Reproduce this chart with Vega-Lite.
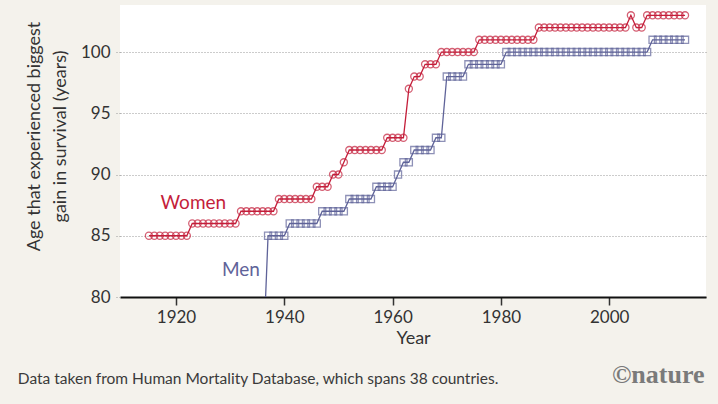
{
  "$schema": "https://vega.github.io/schema/vega-lite/v6.json",
  "width": 586,
  "height": 292,
  "autosize": "none",
  "padding": {"left": 120, "top": 5, "right": 12, "bottom": 107},
  "background": "#f4f2ec",
  "config": {
    "view": {"fill": "white", "stroke": null},
    "font": "Lato"
  },
  "datasets": {
    "series": [
      {"series":"Women","year":1915,"age":85},{"series":"Women","year":1916,"age":85},{"series":"Women","year":1917,"age":85},{"series":"Women","year":1918,"age":85},{"series":"Women","year":1919,"age":85},{"series":"Women","year":1920,"age":85},{"series":"Women","year":1921,"age":85},{"series":"Women","year":1922,"age":85},
      {"series":"Women","year":1923,"age":86},{"series":"Women","year":1924,"age":86},{"series":"Women","year":1925,"age":86},{"series":"Women","year":1926,"age":86},{"series":"Women","year":1927,"age":86},{"series":"Women","year":1928,"age":86},{"series":"Women","year":1929,"age":86},{"series":"Women","year":1930,"age":86},{"series":"Women","year":1931,"age":86},
      {"series":"Women","year":1932,"age":87},{"series":"Women","year":1933,"age":87},{"series":"Women","year":1934,"age":87},{"series":"Women","year":1935,"age":87},{"series":"Women","year":1936,"age":87},{"series":"Women","year":1937,"age":87},{"series":"Women","year":1938,"age":87},
      {"series":"Women","year":1939,"age":88},{"series":"Women","year":1940,"age":88},{"series":"Women","year":1941,"age":88},{"series":"Women","year":1942,"age":88},{"series":"Women","year":1943,"age":88},{"series":"Women","year":1944,"age":88},{"series":"Women","year":1945,"age":88},
      {"series":"Women","year":1946,"age":89},{"series":"Women","year":1947,"age":89},{"series":"Women","year":1948,"age":89},
      {"series":"Women","year":1949,"age":90},{"series":"Women","year":1950,"age":90},
      {"series":"Women","year":1951,"age":91},
      {"series":"Women","year":1952,"age":92},{"series":"Women","year":1953,"age":92},{"series":"Women","year":1954,"age":92},{"series":"Women","year":1955,"age":92},{"series":"Women","year":1956,"age":92},{"series":"Women","year":1957,"age":92},{"series":"Women","year":1958,"age":92},
      {"series":"Women","year":1959,"age":93},{"series":"Women","year":1960,"age":93},{"series":"Women","year":1961,"age":93},{"series":"Women","year":1962,"age":93},
      {"series":"Women","year":1963,"age":97},
      {"series":"Women","year":1964,"age":98},{"series":"Women","year":1965,"age":98},
      {"series":"Women","year":1966,"age":99},{"series":"Women","year":1967,"age":99},{"series":"Women","year":1968,"age":99},
      {"series":"Women","year":1969,"age":100},{"series":"Women","year":1970,"age":100},{"series":"Women","year":1971,"age":100},{"series":"Women","year":1972,"age":100},{"series":"Women","year":1973,"age":100},{"series":"Women","year":1974,"age":100},{"series":"Women","year":1975,"age":100},
      {"series":"Women","year":1976,"age":101},{"series":"Women","year":1977,"age":101},{"series":"Women","year":1978,"age":101},{"series":"Women","year":1979,"age":101},{"series":"Women","year":1980,"age":101},{"series":"Women","year":1981,"age":101},{"series":"Women","year":1982,"age":101},{"series":"Women","year":1983,"age":101},{"series":"Women","year":1984,"age":101},{"series":"Women","year":1985,"age":101},{"series":"Women","year":1986,"age":101},
      {"series":"Women","year":1987,"age":102},{"series":"Women","year":1988,"age":102},{"series":"Women","year":1989,"age":102},{"series":"Women","year":1990,"age":102},{"series":"Women","year":1991,"age":102},{"series":"Women","year":1992,"age":102},{"series":"Women","year":1993,"age":102},{"series":"Women","year":1994,"age":102},{"series":"Women","year":1995,"age":102},{"series":"Women","year":1996,"age":102},{"series":"Women","year":1997,"age":102},{"series":"Women","year":1998,"age":102},{"series":"Women","year":1999,"age":102},{"series":"Women","year":2000,"age":102},{"series":"Women","year":2001,"age":102},{"series":"Women","year":2002,"age":102},{"series":"Women","year":2003,"age":102},
      {"series":"Women","year":2004,"age":103},
      {"series":"Women","year":2005,"age":102},{"series":"Women","year":2006,"age":102},
      {"series":"Women","year":2007,"age":103},{"series":"Women","year":2008,"age":103},{"series":"Women","year":2009,"age":103},{"series":"Women","year":2010,"age":103},{"series":"Women","year":2011,"age":103},{"series":"Women","year":2012,"age":103},{"series":"Women","year":2013,"age":103},{"series":"Women","year":2014,"age":103},
      {"series":"Men","year":1936,"age":74},
      {"series":"Men","year":1937,"age":85},{"series":"Men","year":1938,"age":85},{"series":"Men","year":1939,"age":85},{"series":"Men","year":1940,"age":85},
      {"series":"Men","year":1941,"age":86},{"series":"Men","year":1942,"age":86},{"series":"Men","year":1943,"age":86},{"series":"Men","year":1944,"age":86},{"series":"Men","year":1945,"age":86},{"series":"Men","year":1946,"age":86},
      {"series":"Men","year":1947,"age":87},{"series":"Men","year":1948,"age":87},{"series":"Men","year":1949,"age":87},{"series":"Men","year":1950,"age":87},{"series":"Men","year":1951,"age":87},
      {"series":"Men","year":1952,"age":88},{"series":"Men","year":1953,"age":88},{"series":"Men","year":1954,"age":88},{"series":"Men","year":1955,"age":88},{"series":"Men","year":1956,"age":88},
      {"series":"Men","year":1957,"age":89},{"series":"Men","year":1958,"age":89},{"series":"Men","year":1959,"age":89},{"series":"Men","year":1960,"age":89},
      {"series":"Men","year":1961,"age":90},
      {"series":"Men","year":1962,"age":91},{"series":"Men","year":1963,"age":91},
      {"series":"Men","year":1964,"age":92},{"series":"Men","year":1965,"age":92},{"series":"Men","year":1966,"age":92},{"series":"Men","year":1967,"age":92},
      {"series":"Men","year":1968,"age":93},{"series":"Men","year":1969,"age":93},
      {"series":"Men","year":1970,"age":98},{"series":"Men","year":1971,"age":98},{"series":"Men","year":1972,"age":98},{"series":"Men","year":1973,"age":98},
      {"series":"Men","year":1974,"age":99},{"series":"Men","year":1975,"age":99},{"series":"Men","year":1976,"age":99},{"series":"Men","year":1977,"age":99},{"series":"Men","year":1978,"age":99},{"series":"Men","year":1979,"age":99},{"series":"Men","year":1980,"age":99},
      {"series":"Men","year":1981,"age":100},{"series":"Men","year":1982,"age":100},{"series":"Men","year":1983,"age":100},{"series":"Men","year":1984,"age":100},{"series":"Men","year":1985,"age":100},{"series":"Men","year":1986,"age":100},{"series":"Men","year":1987,"age":100},{"series":"Men","year":1988,"age":100},{"series":"Men","year":1989,"age":100},{"series":"Men","year":1990,"age":100},{"series":"Men","year":1991,"age":100},{"series":"Men","year":1992,"age":100},{"series":"Men","year":1993,"age":100},{"series":"Men","year":1994,"age":100},{"series":"Men","year":1995,"age":100},{"series":"Men","year":1996,"age":100},{"series":"Men","year":1997,"age":100},{"series":"Men","year":1998,"age":100},{"series":"Men","year":1999,"age":100},{"series":"Men","year":2000,"age":100},{"series":"Men","year":2001,"age":100},{"series":"Men","year":2002,"age":100},{"series":"Men","year":2003,"age":100},{"series":"Men","year":2004,"age":100},{"series":"Men","year":2005,"age":100},{"series":"Men","year":2006,"age":100},{"series":"Men","year":2007,"age":100},
      {"series":"Men","year":2008,"age":101},{"series":"Men","year":2009,"age":101},{"series":"Men","year":2010,"age":101},{"series":"Men","year":2011,"age":101},{"series":"Men","year":2012,"age":101},{"series":"Men","year":2013,"age":101},{"series":"Men","year":2014,"age":101}
    ],
    "labels": [
      {"series":"Women","label":"Women","year":1923.2,"age":87.7},
      {"series":"Men","label":"Men","year":1932.0,"age":82.2}
    ],
    "notes": [
      {"label":"Data taken from Human Mortality Database, which spans 38 countries.","year":1890.8,"age":73.3}
    ],
    "logo": [
      {"label":"©nature","year":2017.6,"age":73.6}
    ]
  },
  "layer": [
    {
      "data": {"name": "series"},
      "mark": {"type": "line", "clip": true, "strokeWidth": 1.3},
      "encoding": {
        "x": {"field": "year", "type": "quantitative",
          "scale": {"domain": [1909.66, 2017.87], "nice": false, "zero": false},
          "axis": {"values": [1920, 1940, 1960, 1980, 2000], "format": "d", "grid": false,
            "domainColor": "#111", "domainWidth": 2, "tickColor": "#333", "tickSize": 8, "tickWidth": 1.5,
            "labelFont": "Lato", "labelFontSize": 17, "labelColor": "#333", "labelPadding": 4,
            "title": "Year", "titleFont": "Lato", "titleFontSize": 18, "titleFontWeight": "normal", "titleColor": "#333", "titlePadding": 4}},
        "y": {"field": "age", "type": "quantitative",
          "scale": {"domain": [80, 103.84], "nice": false, "zero": false},
          "axis": {"values": [80, 85, 90, 95, 100], "domain": false, "grid": true, "gridDash": [1, 2], "gridColor": "#999",
            "tickDash": [1, 2], "tickColor": "#999", "tickSize": 5,
            "labelFont": "Lato", "labelFontSize": 17, "labelColor": "#333", "labelPadding": 5,
            "title": ["Age that experienced biggest", "gain in survival (years)"],
            "titleFont": "Lato", "titleFontSize": 18, "titleFontWeight": "normal", "titleColor": "#333",
            "titleLineHeight": 26, "titleX": -77, "titleY": 131, "titleBaseline": "bottom"}},
        "color": {"field": "series", "type": "nominal",
          "scale": {"domain": ["Women", "Men"], "range": ["#c41e3a", "#5f6399"]}, "legend": null},
        "detail": {"field": "series"}
      }
    },
    {
      "data": {"name": "series"},
      "mark": {"type": "point", "clip": true, "filled": false, "strokeWidth": 1.3, "size": 50},
      "encoding": {
        "x": {"field": "year", "type": "quantitative"},
        "y": {"field": "age", "type": "quantitative"},
        "color": {"field": "series", "type": "nominal", "legend": null},
        "shape": {"field": "series", "type": "nominal",
          "scale": {"domain": ["Women", "Men"], "range": ["circle", "square"]}, "legend": null}
      }
    },
    {
      "data": {"name": "labels"},
      "mark": {"type": "text", "font": "Lato", "fontSize": 19, "align": "center", "baseline": "middle"},
      "encoding": {
        "x": {"field": "year", "type": "quantitative"},
        "y": {"field": "age", "type": "quantitative"},
        "text": {"field": "label"},
        "color": {"field": "series", "type": "nominal", "legend": null}
      }
    },
    {
      "data": {"name": "notes"},
      "mark": {"type": "text", "font": "Lato", "fontSize": 15.5, "align": "left", "baseline": "middle", "color": "#3a3a3a", "clip": false},
      "encoding": {
        "x": {"field": "year", "type": "quantitative"},
        "y": {"field": "age", "type": "quantitative"},
        "text": {"field": "label"}
      }
    },
    {
      "data": {"name": "logo"},
      "mark": {"type": "text", "font": "Liberation Serif", "fontSize": 26, "fontWeight": "bold", "align": "right", "baseline": "middle", "color": "#7a7a7a", "clip": false},
      "encoding": {
        "x": {"field": "year", "type": "quantitative"},
        "y": {"field": "age", "type": "quantitative"},
        "text": {"field": "label"}
      }
    }
  ]
}
